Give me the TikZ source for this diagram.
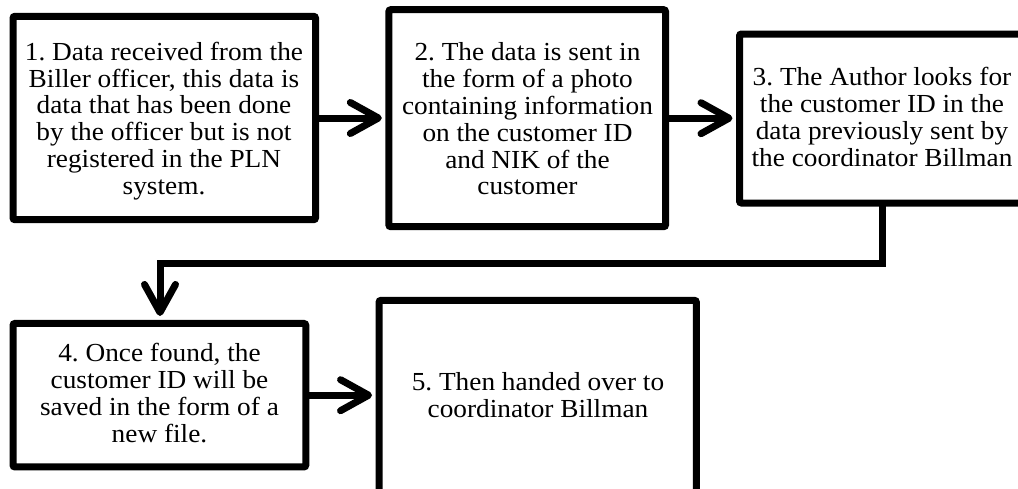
\documentclass[tikz,border=0pt]{standalone}
\usepackage{fontspec}
\setmainfont{Liberation Serif}[FakeStretch=1.05]
\usetikzlibrary{arrows.meta}
\newcommand\myboxfont{\fontsize{26}{26.8}\selectfont\frenchspacing\lineskiplimit=-30pt\relax}
\begin{document}
\begin{tikzpicture}[x=1pt,y=-1pt,
  box/.style={draw, line width=7pt, rounded corners=2pt, inner sep=0pt, outer sep=0pt},
  txt/.style={align=center, inner sep=0pt, font=\myboxfont},
  conn/.style={line width=7pt, -{Straight Barb[length=28pt,width=31pt,round]}, shorten >=7pt}]
\useasboundingbox (0,0) rectangle (1018,488);
\clip (0,0) rectangle (1018,488);
% boxes
\node[box, minimum width=302.5pt, minimum height=203.4pt] (b1) at (164.25,118) {};
\node[box, minimum width=276.7pt, minimum height=217pt] (b2) at (527.2,118.2) {};
\node[box, minimum width=285pt, minimum height=169pt] (b3) at (882,118.5) {};
\node[box, minimum width=292.8pt, minimum height=143.5pt] (b4) at (159.4,395.2) {};
\node[box, minimum width=317.3pt, minimum height=219.7pt] (b5) at (537.7,410.2) {};
% texts
\node[txt] (t1) at (164,121) {1. Data received from the\\Biller officer, this data is\\data that has been done\\by the officer but is not\\registered in the PLN\\system.};
\node[txt] (t2) at (527.5,119) {2. The data is sent in\\the form of a photo\\containing information\\on the customer ID\\and NIK of the\\customer};
\node[txt] (t3) at (882,117) {3. The Author looks for\\the customer ID in the\\data previously sent by\\the coordinator Billman};
\node[txt] (t4) at (159.5,393) {4. Once found, the\\customer ID will be\\saved in the form of a\\new file.};
\node[txt] (t5) at (538,395) {5. Then handed over to\\coordinator Billman};
% connectors
\coordinate (k2) at (160,263);
\draw[conn] (b1.east) -- (b1.east -| b2.west);
\draw[conn] (b2.east) -- (b2.east -| b3.west);
\draw[conn, shorten >=7.5pt] (b3.south) -- (b3.south |- k2) -- (k2) -- (k2 |- b4.north);
\draw[conn] (b4.east) -- (b4.east -| b5.west);
\end{tikzpicture}
\end{document}
